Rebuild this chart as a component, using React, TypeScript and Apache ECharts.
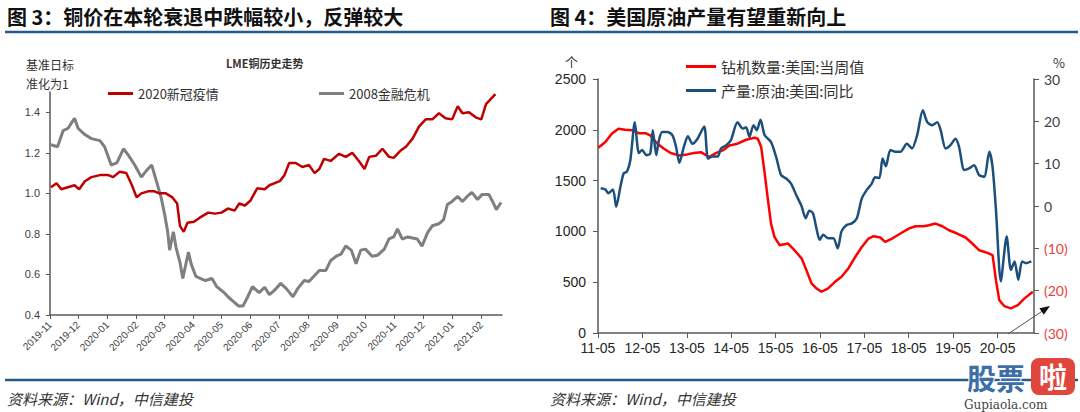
import React, { useEffect, useRef } from "react";
import * as echarts from "echarts";

// ---------- Figure 3: LME copper, normalised to 1 on base date ----------
const covidDates = [
  "2019-11-02", "2019-11-08", "2019-11-13", "2019-11-20", "2019-11-27", "2019-12-02", "2019-12-08", "2019-12-15",
  "2019-12-24", "2020-01-02", "2020-01-07", "2020-01-14", "2020-01-21", "2020-01-27", "2020-02-01", "2020-02-06",
  "2020-02-13", "2020-02-20", "2020-02-25", "2020-03-03", "2020-03-10", "2020-03-15", "2020-03-18", "2020-03-22",
  "2020-03-26", "2020-04-02", "2020-04-08", "2020-04-17", "2020-04-24", "2020-05-01", "2020-05-08", "2020-05-15",
  "2020-05-20", "2020-05-26", "2020-06-01", "2020-06-08", "2020-06-16", "2020-06-21", "2020-07-02", "2020-07-07",
  "2020-07-12", "2020-07-19", "2020-07-26", "2020-08-02", "2020-08-08", "2020-08-13", "2020-08-18", "2020-08-25",
  "2020-09-03", "2020-09-10", "2020-09-17", "2020-09-24", "2020-09-30", "2020-10-05", "2020-10-12", "2020-10-19",
  "2020-10-26", "2020-10-31", "2020-11-07", "2020-11-13", "2020-11-20", "2020-11-27", "2020-12-04", "2020-12-11",
  "2020-12-18", "2020-12-25", "2021-01-01", "2021-01-07", "2021-01-12", "2021-01-19", "2021-01-26", "2021-02-01",
  "2021-02-06", "2021-02-11", "2021-02-16",
];
const covidIndex = [
  1.03, 1.05, 1.02, 1.03, 1.04, 1.02, 1.06, 1.08,
  1.09, 1.09, 1.08, 1.107, 1.1, 1.04, 0.98, 1.0,
  1.01, 1.01, 1.0, 1.0, 0.98, 0.95, 0.84, 0.81,
  0.855, 0.86, 0.88, 0.905, 0.9, 0.905, 0.925, 0.915,
  0.95, 0.94, 0.965, 1.025, 1.02, 1.04, 1.06, 1.09,
  1.15, 1.15, 1.13, 1.14, 1.1, 1.12, 1.17, 1.16,
  1.195, 1.18, 1.2, 1.16, 1.12, 1.18, 1.185, 1.22,
  1.18, 1.175, 1.21, 1.23, 1.27, 1.33, 1.365, 1.365,
  1.395, 1.37, 1.365, 1.43, 1.395, 1.4, 1.375, 1.365,
  1.44, 1.465, 1.49,
];

const gfcDates = [
  "2019-11-02", "2019-11-09", "2019-11-15", "2019-11-20", "2019-11-27", "2019-12-01", "2019-12-08", "2019-12-15",
  "2019-12-24", "2019-12-29", "2020-01-05", "2020-01-11", "2020-01-18", "2020-01-23", "2020-01-30", "2020-02-06",
  "2020-02-11", "2020-02-17", "2020-02-22", "2020-02-27", "2020-03-02", "2020-03-05", "2020-03-07", "2020-03-11",
  "2020-03-14", "2020-03-18", "2020-03-21", "2020-03-27", "2020-03-30", "2020-04-04", "2020-04-09", "2020-04-14",
  "2020-04-21", "2020-04-26", "2020-05-04", "2020-05-08", "2020-05-13", "2020-05-19", "2020-05-24", "2020-05-29",
  "2020-06-03", "2020-06-10", "2020-06-16", "2020-06-21", "2020-06-26", "2020-07-03", "2020-07-09", "2020-07-16",
  "2020-07-21", "2020-07-28", "2020-08-02", "2020-08-08", "2020-08-13", "2020-08-20", "2020-08-25", "2020-08-31",
  "2020-09-05", "2020-09-10", "2020-09-16", "2020-09-21", "2020-09-26", "2020-10-01", "2020-10-08", "2020-10-14",
  "2020-10-21", "2020-10-26", "2020-10-31", "2020-11-04", "2020-11-09", "2020-11-15", "2020-11-20", "2020-11-25",
  "2020-11-30", "2020-12-06", "2020-12-11", "2020-12-18", "2020-12-23", "2020-12-27", "2021-01-01", "2021-01-07",
  "2021-01-12", "2021-01-17", "2021-01-22", "2021-01-28", "2021-02-02", "2021-02-09", "2021-02-13", "2021-02-17",
  "2021-02-22",
];
const gfcIndex = [
  1.24, 1.23, 1.31, 1.32, 1.37, 1.32, 1.29, 1.27,
  1.26, 1.23, 1.14, 1.15, 1.22, 1.19, 1.14, 1.08,
  1.11, 1.14, 1.06, 0.98, 0.89, 0.81, 0.72, 0.81,
  0.73, 0.66, 0.58, 0.71, 0.65, 0.59, 0.58, 0.57,
  0.58, 0.54, 0.51, 0.49, 0.47, 0.445, 0.445, 0.49,
  0.54, 0.51, 0.537, 0.5, 0.52, 0.556, 0.53, 0.49,
  0.53, 0.57, 0.565, 0.595, 0.62, 0.62, 0.668, 0.69,
  0.7, 0.74, 0.72, 0.653, 0.72, 0.725, 0.69, 0.695,
  0.725, 0.775, 0.785, 0.825, 0.775, 0.785, 0.78, 0.775,
  0.74, 0.806, 0.84, 0.85, 0.87, 0.945, 0.96, 0.985,
  0.96, 0.985, 1.005, 0.97, 0.995, 0.995, 0.96, 0.92,
  0.955,
];

const leftMonthLabels = [
  "2019-11", "2019-12", "2020-01", "2020-02", "2020-03", "2020-04", "2020-05", "2020-06",
  "2020-07", "2020-08", "2020-09", "2020-10", "2020-11", "2020-12", "2021-01", "2021-02",
];
const leftYTicks = [0.4, 0.6, 0.8, 1.0, 1.2, 1.4];

// ---------- Figure 4: US rig count & crude output YoY ----------
const rigDates = [
  "2011-05-03", "2011-07-01", "2011-08-22", "2011-10-16", "2011-12-10", "2012-02-06", "2012-04-01", "2012-05-25",
  "2012-07-04", "2012-09-01", "2012-10-25", "2012-12-19", "2013-02-25", "2013-05-04", "2013-06-28", "2013-08-25",
  "2013-11-01", "2013-12-25", "2014-02-20", "2014-04-16", "2014-06-22", "2014-09-01", "2014-11-09", "2014-12-06",
  "2015-01-03", "2015-02-01", "2015-02-28", "2015-03-25", "2015-04-22", "2015-06-03", "2015-08-10", "2015-10-04",
  "2015-12-01", "2016-01-10", "2016-02-21", "2016-04-01", "2016-05-13", "2016-07-07", "2016-09-01", "2016-10-25",
  "2016-12-20", "2017-02-15", "2017-04-10", "2017-06-04", "2017-07-16", "2017-09-09", "2017-10-19", "2017-12-15",
  "2018-02-22", "2018-05-01", "2018-06-25", "2018-09-03", "2018-10-13", "2018-12-07", "2019-02-02", "2019-03-28",
  "2019-06-04", "2019-08-12", "2019-10-06", "2019-12-01", "2020-02-08", "2020-03-21", "2020-04-18", "2020-05-15",
  "2020-06-25", "2020-08-19", "2020-10-15", "2020-12-09", "2021-02-15",
];
const rigCount = [
  1823, 1879, 1961, 2010, 2000, 1995, 1967, 1967,
  1944, 1863, 1814, 1771, 1748, 1758, 1771, 1780,
  1731, 1771, 1797, 1846, 1863, 1902, 1922, 1912,
  1830, 1568, 1306, 1077, 946, 864, 881, 815,
  735, 619, 488, 439, 406, 439, 504, 553,
  635, 749, 847, 930, 953, 940, 897, 930,
  979, 1028, 1051, 1051, 1061, 1077, 1051, 1011,
  979, 940, 881, 815, 789, 766, 520, 324,
  265, 243, 275, 341, 406,
];

const prodDates = [
  "2011-05-23", "2011-07-01", "2011-07-25", "2011-09-01", "2011-09-28", "2011-11-01", "2011-11-28", "2011-12-25",
  "2012-01-22", "2012-02-28", "2012-04-01", "2012-04-28", "2012-06-03", "2012-07-04", "2012-07-25", "2012-08-22",
  "2012-09-13", "2012-10-10", "2012-11-22", "2013-01-03", "2013-02-01", "2013-02-28", "2013-04-07", "2013-05-10",
  "2013-06-16", "2013-07-28", "2013-09-21", "2013-10-22", "2013-11-28", "2014-01-10", "2014-02-06", "2014-03-19",
  "2014-04-28", "2014-06-22", "2014-08-04", "2014-09-01", "2014-09-28", "2014-11-01", "2014-11-28", "2014-12-28",
  "2015-02-01", "2015-03-25", "2015-05-06", "2015-06-16", "2015-07-28", "2015-09-06", "2015-10-18", "2015-12-01",
  "2016-01-04", "2016-02-03", "2016-03-04", "2016-04-01", "2016-04-28", "2016-05-28", "2016-07-07", "2016-08-19",
  "2016-09-24", "2016-10-25", "2016-12-06", "2017-01-18", "2017-02-28", "2017-04-10", "2017-05-21", "2017-07-01",
  "2017-07-28", "2017-09-01", "2017-09-28", "2017-10-25", "2017-12-01", "2018-01-12", "2018-02-22", "2018-04-16",
  "2018-05-28", "2018-07-09", "2018-08-25", "2018-10-01", "2018-11-10", "2018-12-22", "2019-01-19", "2019-03-01",
  "2019-04-10", "2019-05-21", "2019-06-19", "2019-08-01", "2019-09-10", "2019-10-21", "2019-12-01", "2020-01-12",
  "2020-02-23", "2020-03-21", "2020-04-18", "2020-05-28", "2020-07-15", "2020-08-19", "2020-09-18", "2020-10-19",
  "2020-11-19", "2020-12-22", "2021-02-03",
];
const prodYoY = [
  4.2, 3.9, 3.0, 3.9, -0.2, 4.5, 7.7, 8.1,
  10.8, 19.8, 12.5, 13.2, 12.0, 12.4, 17.9, 12.0,
  15.5, 17.5, 17.5, 16.7, 14.0, 10.2, 14.0, 16.5,
  14.7, 15.9, 18.8, 11.2, 11.7, 11.7, 13.6, 14.3,
  15.5, 19.8, 18.3, 18.6, 16.3, 19.1, 17.9, 20.4,
  16.7, 15.1, 11.6, 7.3, 6.5, 5.3, 2.6, 0.0,
  -2.9, -1.1, -1.7, -5.2, -8.0, -6.8, -7.6, -7.6,
  -10.0, -6.0, -4.5, -4.1, -2.9, 1.8, 3.8, 5.3,
  6.8, 6.6, 11.2, 9.4, 13.2, 12.8, 12.8, 14.7,
  13.6, 16.7, 22.6, 19.8, 19.1, 19.8, 17.9, 13.6,
  14.4, 15.9, 14.0, 8.5, 8.9, 9.6, 7.3, 6.9,
  12.8, 9.2, -0.9, -17.8, -7.2, -15.1, -13.1, -17.4,
  -13.1, -13.5, -13.1,
];

const rightYearLabels = ["11-05", "12-05", "13-05", "14-05", "15-05", "16-05", "17-05", "18-05", "19-05", "20-05"];

const CJK = "'Noto Sans CJK SC', 'Noto Sans', sans-serif";
const NUM = "'Liberation Sans', Arial, sans-serif";

function toTs(s: string): number {
  const p = s.split("-").map(Number);
  return Date.UTC(p[0], p[1] - 1, p[2] || 1);
}

export default function App() {
  const ref = useRef<HTMLDivElement>(null);

  useEffect(() => {
    if (!ref.current) return;
    const chart = echarts.init(ref.current, undefined, { renderer: "svg" });

    const leftTickTs = leftMonthLabels.map((m) => toTs(m + "-01"));
    const leftLabelMap = new Map<number, string>();
    leftTickTs.forEach((t, i) => leftLabelMap.set(t, leftMonthLabels[i]));

    const rightTickTs = rightYearLabels.map((l) => toTs("20" + l.slice(0, 2) + "-" + l.slice(3) + "-01"));
    const rightLabelMap = new Map<number, string>();
    rightTickTs.forEach((t, i) => rightLabelMap.set(t, rightYearLabels[i]));

    const axisColor = "#595959";
    const blueRule = "#245b8c";

    const option: any = {
      animation: false,
      backgroundColor: "#ffffff",
      grid: [
        { left: 50, top: 92, width: 452, height: 223 },
        { left: 598, top: 79, width: 436, height: 254 },
      ],
      legend: [
        {
          data: ["2020新冠疫情"], left: 103, top: 82, icon: "rect", itemWidth: 25, itemHeight: 3, itemGap: 4,
          textStyle: { fontFamily: CJK, fontSize: 13, color: "#333" },
        },
        {
          data: ["2008金融危机"], left: 314, top: 82, icon: "rect", itemWidth: 25, itemHeight: 3, itemGap: 4,
          textStyle: { fontFamily: CJK, fontSize: 13, color: "#333" },
        },
        {
          data: ["钻机数量:美国:当周值"], left: 681, top: 54, icon: "rect", itemWidth: 30, itemHeight: 3, itemGap: 4,
          textStyle: { fontFamily: CJK, fontSize: 15, color: "#333" },
        },
        {
          data: ["产量:原油:美国:同比"], left: 681, top: 78, icon: "rect", itemWidth: 30, itemHeight: 3, itemGap: 4,
          textStyle: { fontFamily: CJK, fontSize: 15, color: "#333" },
        },
      ],
      xAxis: [
        {
          type: "value", gridIndex: 0,
          min: toTs("2019-11-01"), max: toTs("2021-02-23"),
          axisLine: { lineStyle: { color: axisColor, width: 1.5 } },
          axisTick: { show: true, customValues: leftTickTs, length: 4, lineStyle: { color: axisColor } },
          axisLabel: {
            customValues: leftTickTs, rotate: 45, fontSize: 10, color: "#404040", fontFamily: NUM, margin: 8,
            formatter: (v: number) => leftLabelMap.get(v) ?? "",
          },
          splitLine: { show: false },
        },
        {
          type: "value", gridIndex: 1,
          min: toTs("2011-05-01"), max: toTs("2021-02-25"),
          axisLine: { lineStyle: { color: axisColor, width: 1.5 } },
          axisTick: { show: true, customValues: rightTickTs, length: 5, lineStyle: { color: axisColor } },
          axisLabel: {
            customValues: rightTickTs, fontSize: 14, color: "#262626", fontFamily: NUM, margin: 8,
            formatter: (v: number) => rightLabelMap.get(v) ?? "",
          },
          splitLine: { show: false },
        },
      ],
      yAxis: [
        {
          type: "value", gridIndex: 0, min: 0.4, max: 1.5,
          axisLine: { show: true, lineStyle: { color: axisColor, width: 1.5 } },
          axisTick: { show: true, customValues: leftYTicks, length: 4, lineStyle: { color: axisColor } },
          axisLabel: {
            customValues: leftYTicks, fontSize: 11, color: "#404040", fontFamily: NUM, margin: 10,
            formatter: (v: number) => v.toFixed(1),
          },
          splitLine: { show: false },
        },
        {
          type: "value", gridIndex: 1, min: 0, max: 2500, interval: 500,
          axisLine: { show: true, lineStyle: { color: axisColor, width: 1.5 } },
          axisTick: { show: true, length: 5, lineStyle: { color: axisColor } },
          axisLabel: {
            fontSize: 14, color: "#262626", fontFamily: NUM, margin: 12,
            formatter: (v: number) => String(v),
          },
          splitLine: { show: false },
        },
        {
          type: "value", gridIndex: 1, position: "right", min: -30, max: 30, interval: 10,
          axisLine: { show: true, lineStyle: { color: axisColor, width: 1.5 } },
          axisTick: { show: true, length: 5, lineStyle: { color: axisColor } },
          axisLabel: {
            fontSize: 14, fontFamily: "Lato, 'Open Sans', sans-serif", margin: 10,
            color: (v: any) => (Number(v) < 0 ? "#e8413b" : "#404040"),
            formatter: (v: number) => (v < 0 ? "(" + -v + ")" : String(v)),
          },
          splitLine: { show: false },
        },
      ],
      series: [
        {
          name: "2008金融危机", type: "line", xAxisIndex: 0, yAxisIndex: 0, showSymbol: false,
          data: gfcDates.map((d, i) => [toTs(d), gfcIndex[i]]),
          lineStyle: { color: "#7f7f7f", width: 3 }, itemStyle: { color: "#7f7f7f" },
        },
        {
          name: "2020新冠疫情", type: "line", xAxisIndex: 0, yAxisIndex: 0, showSymbol: false,
          data: covidDates.map((d, i) => [toTs(d), covidIndex[i]]),
          lineStyle: { color: "#c00000", width: 2.5 }, itemStyle: { color: "#c00000" },
        },
        {
          name: "钻机数量:美国:当周值", type: "line", xAxisIndex: 1, yAxisIndex: 1, showSymbol: false,
          data: rigDates.map((d, i) => [toTs(d), rigCount[i]]),
          lineStyle: { color: "#ff0000", width: 2.5 }, itemStyle: { color: "#ff0000" },
        },
        {
          name: "产量:原油:美国:同比", type: "line", xAxisIndex: 1, yAxisIndex: 2, showSymbol: false, smooth: 0.25,
          data: prodDates.map((d, i) => [toTs(d), prodYoY[i]]),
          lineStyle: { color: "#1b4f7c", width: 2.5 }, itemStyle: { color: "#1b4f7c" },
        },
      ],
      graphic: [
        {
          type: "text", x: 7, y: 16,
          style: {
            text: "图 3：铜价在本轮衰退中跌幅较小，反弹较大", fontFamily: CJK, fontSize: 20, lineHeight: 24,
            fontWeight: "bold", fill: "#111", verticalAlign: "middle",
          },
        },
        {
          type: "text", x: 550, y: 16,
          style: {
            text: "图 4：美国原油产量有望重新向上", fontFamily: CJK, fontSize: 20, lineHeight: 24,
            fontWeight: "bold", fill: "#111", verticalAlign: "middle",
          },
        },
        { type: "line", shape: { x1: 5, y1: 32, x2: 1078, y2: 32 }, style: { stroke: blueRule, lineWidth: 2.5 } },
        { type: "line", shape: { x1: 5, y1: 380, x2: 1078, y2: 380 }, style: { stroke: blueRule, lineWidth: 2.5 } },
        {
          type: "text", left: 7, top: 391,
          style: { text: "资料来源：Wind，中信建投", fontFamily: CJK, fontSize: 15, fontStyle: "italic", fill: "#333" },
        },
        {
          type: "text", left: 550, top: 391,
          style: { text: "资料来源：Wind，中信建投", fontFamily: CJK, fontSize: 15, fontStyle: "italic", fill: "#333" },
        },
        {
          type: "text", left: 226, top: 57,
          style: { text: "LME铜历史走势", fontFamily: CJK, fontSize: 11, fontWeight: "bold", fill: "#333" },
        },
        {
          type: "text", left: 26, top: 55,
          style: { text: "基准日标\n准化为1", fontFamily: CJK, fontSize: 12, lineHeight: 19, fill: "#333" },
        },
        {
          type: "text", left: 565, top: 55,
          style: { text: "个", fontFamily: CJK, fontSize: 13, fill: "#333" },
        },
        {
          type: "text", left: 1053, top: 56,
          style: { text: "%", fontFamily: CJK, fontSize: 13, fill: "#333" },
        },
        // annotation arrow
        { type: "line", shape: { x1: 1008, y1: 334, x2: 1044, y2: 310 }, style: { stroke: "#555", lineWidth: 1 } },
        {
          type: "polygon",
          shape: { points: [[1050, 306], [1043.8, 314.8], [1039.4, 308.2]] },
          style: { fill: "#111" },
        },
        // watermark
        {
          type: "text", left: 966, top: 361,
          style: {
            text: "股票", fontFamily: CJK, fontSize: 29, lineHeight: 29, fontWeight: "bold", fill: "#3d6ea8",
            stroke: "#ffffff", lineWidth: 2,
          },
        },
        {
          type: "rect", shape: { x: 1031, y: 358, width: 44, height: 37, r: 8 },
          style: { fill: "#e0463c" },
        },
        {
          type: "text", left: 1039, top: 362,
          style: { text: "啦", fontFamily: CJK, fontSize: 28, lineHeight: 28, fontWeight: "bold", fill: "#ffffff" },
        },
        {
          type: "text", left: 964, top: 399,
          style: { text: "Gupiaola.com", fontFamily: "'DejaVu Serif', serif", fontSize: 12, lineHeight: 12, fill: "#444" },
        },
      ],
    };

    chart.setOption(option);
    return () => chart.dispose();
  }, []);

  return (
    <div
      ref={ref}
      style={{ position: "absolute", left: 0, top: 0, width: 1080, height: 412, background: "#fff" }}
    />
  );
}
